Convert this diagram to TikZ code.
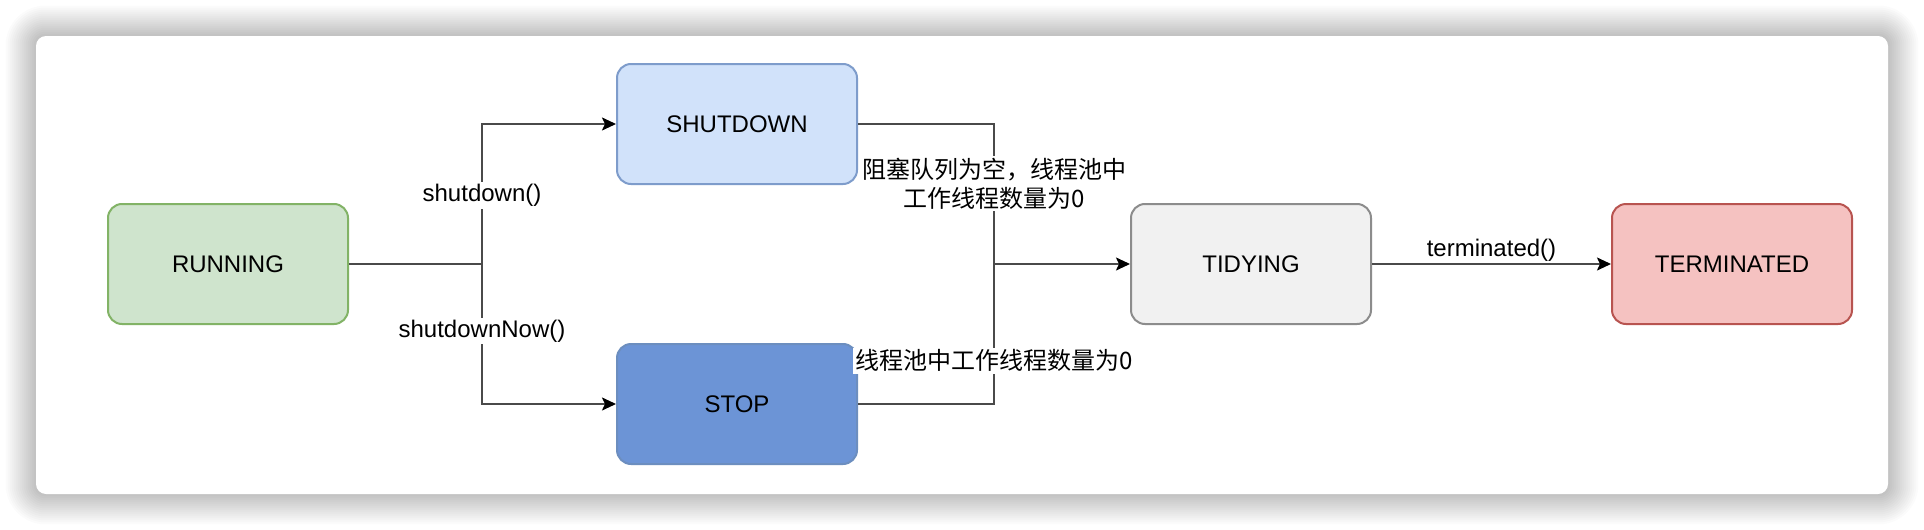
\documentclass[tikz,border=0pt]{standalone}
\usepackage{fontspec}
\setmainfont{Liberation Sans}
\newfontfamily\cjk{Noto Sans CJK SC}
\usetikzlibrary{positioning,arrows.meta,backgrounds}
\definecolor{runfill}{HTML}{CFE4CD}
\definecolor{rundraw}{HTML}{82B366}
\definecolor{shutfill}{HTML}{D1E2FA}
\definecolor{shutdraw}{HTML}{7E9CCB}
\definecolor{stopfill}{HTML}{6C94D6}
\definecolor{stopdraw}{HTML}{6C8EBF}
\definecolor{tidyfill}{HTML}{F1F1F1}
\definecolor{tidydraw}{HTML}{8C8C8C}
\definecolor{termfill}{HTML}{F5C2C1}
\definecolor{termdraw}{HTML}{B85450}
\definecolor{wiregray}{HTML}{4A4A4A}

\tikzset{
  statebox/.style={draw, line width=1pt, rounded corners=7pt,
    minimum width=120pt, minimum height=60pt,
    font=\fontsize{12pt}{14pt}\selectfont},
  wire/.style={draw=wiregray, line width=1pt},
  go/.style={wire, -{Stealth[length=7pt, width=6.5pt, inset=1.5pt, color=black]}},
  edgelabel/.style={fill=white, inner sep=1pt, font=\fontsize{12pt}{14pt}\selectfont},
  cjklabel/.style={edgelabel, font=\cjk\fontsize{12pt}{14.5pt}\selectfont},
}

\begin{document}
\begin{tikzpicture}[x=1pt, y=1pt]
  \useasboundingbox (0,0) rectangle (962,-265);
  % the white card that carries the whole state chart
  \node[fill=white, rounded corners=5pt, inner sep=0pt,
        minimum width=926pt, minimum height=229pt] (card) at (481,-132.5) {};

  % pool states (1px of the sketch = 0.5pt)
  \node[statebox, fill=runfill, draw=rundraw] (running) at (114,-132) {RUNNING};
  \node[statebox, fill=shutfill, draw=shutdraw,
        right=133.5pt of running, yshift=70pt] (shutdown) {SHUTDOWN};
  \node[statebox, fill=stopfill, draw=stopdraw,
        right=133.5pt of running, yshift=-70pt] (stop) {STOP};
  \node[statebox, fill=tidyfill, draw=tidydraw,
        right=136pt of shutdown, yshift=-70pt] (tidying) {TIDYING};
  \node[statebox, fill=termfill, draw=termdraw,
        right=119.5pt of tidying] (terminated) {TERMINATED};

  % where the wires split and join
  \coordinate[right=66.5pt of running] (fork);
  \coordinate[left=68pt of tidying] (merge);

  \draw[wire] (running) -- (fork);
  \draw[go] (fork) -- node[edgelabel, pos=0.49] {shutdown()} (fork |- shutdown) -- (shutdown);
  \draw[go] (fork) -- node[edgelabel, pos=0.48] {shutdownNow()} (fork |- stop) -- (stop);

  \draw[wire] (shutdown) -- (shutdown -| merge)
    -- node[cjklabel, pos=0.425, align=center] {阻塞队列为空，线程池中\\工作线程数量为0} (merge);
  \draw[wire] (stop) -- (stop -| merge)
    -- node[cjklabel, pos=0.31] {线程池中工作线程数量为0} (merge);
  \draw[go] (merge) -- (tidying);
  \draw[go] (tidying) -- node[above, inner sep=1pt, font=\fontsize{12pt}{14pt}\selectfont]
    {terminated()} (terminated);

  % soft drop shadow round the card, plus the page behind it
  \begin{scope}[on background layer]
    \fill[white] (0,0) rectangle (962,-265);
    \foreach \s in {1,...,15}{
      \pgfmathsetmacro\rr{5+\s}
      \fill[black, opacity=0.014, rounded corners=\rr pt]
        ([shift={(-\s,-\s)}]card.south west) rectangle ([shift={(\s,\s)}]card.north east);
    }
  \end{scope}
\end{tikzpicture}
\end{document}
